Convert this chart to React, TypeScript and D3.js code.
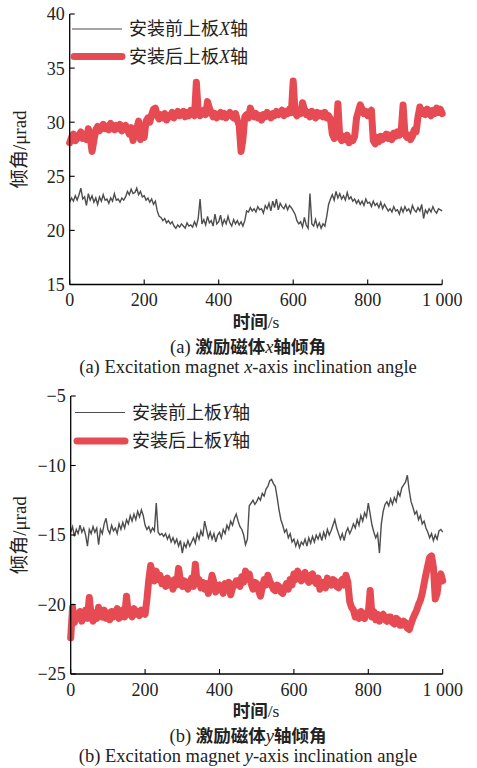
import React from 'react';
import * as d3 from 'd3';

// sampling interval (s) of every series
const STEP = 5;

// (a) x-axis, before installation
const beforeX = [
  22.6, 23.0, 22.7, 23.2, 22.8, 23.3, 23.9, 22.9, 23.1, 22.3,
  23.4, 22.8, 23.2, 22.6, 23.0, 22.4, 23.1, 22.7, 23.3, 22.8,
  22.9, 22.5, 23.0, 22.7, 23.4, 22.8, 22.9, 22.6, 23.0, 22.8,
  23.1, 23.6, 23.3, 23.8, 23.4, 23.5, 23.9, 23.3, 23.6, 23.1,
  23.2, 22.8, 23.0, 22.6, 22.9, 22.4, 22.7, 21.8, 21.3, 21.2,
  20.9, 21.1, 20.7, 20.9, 20.6, 20.8, 20.4, 20.2, 20.5, 20.3,
  20.6, 20.4, 20.2, 20.7, 20.4, 20.5, 20.3, 20.8, 20.4, 21.1,
  22.9, 20.6, 21.0, 20.5, 21.3, 20.7, 20.9, 20.4, 21.5, 20.6,
  20.8, 21.4, 20.5, 21.0, 20.6, 21.3, 20.7, 20.4, 21.0, 20.6,
  20.9, 20.5, 20.8, 20.4, 20.9, 21.8, 21.7, 22.1, 21.8, 22.0,
  21.7, 22.2, 21.9, 22.0, 21.6, 22.3, 22.0, 22.5, 21.8, 22.7,
  22.1, 22.9, 21.9, 22.5, 22.2, 22.0, 22.4, 21.9, 22.3, 22.1,
  21.8, 21.5, 20.9, 20.6, 20.8, 20.3, 21.2, 20.5, 20.2, 23.4,
  20.6, 20.4, 21.0, 20.3, 20.7, 20.2, 20.6, 20.4, 21.3, 22.4,
  22.9, 23.3, 22.8, 23.6, 23.0, 23.4, 22.9, 23.2, 22.8, 23.5,
  22.9, 23.1, 22.7, 22.9, 22.5, 22.8, 22.4, 22.7, 22.3, 22.9,
  22.5, 22.6, 22.2, 22.7, 22.3, 22.5, 22.1, 22.6, 22.0, 22.4,
  22.1, 21.8, 22.0, 21.7, 22.2, 21.8, 21.9, 21.5, 22.1, 21.7,
  22.2, 21.8, 22.0, 21.6, 22.3, 21.9, 21.7, 22.1, 21.8, 22.4,
  21.1, 21.9, 21.6, 22.0, 21.7, 22.2, 21.8, 21.6, 22.0, 21.9,
  21.8,
];

// (a) x-axis, after installation
const afterX = [
  28.1, 28.6, 28.9, 28.3, 28.5, 28.8, 29.1, 28.5, 28.7, 28.4,
  29.4, 28.6, 27.3, 28.3, 29.3, 29.6, 29.2, 29.5, 29.8, 29.4,
  29.6, 29.3, 29.9, 29.5, 29.3, 29.7, 29.4, 29.8, 29.2, 29.5,
  29.7, 29.3, 28.9, 29.5, 28.3, 28.9, 29.4, 30.1, 28.4, 28.9,
  28.6, 30.1, 30.4, 30.0, 30.7, 31.2, 31.3, 30.6, 30.3, 30.7,
  30.4, 30.8, 30.2, 30.6, 30.5, 30.9, 30.4, 30.7, 31.0, 30.6,
  30.7, 31.0, 30.5, 30.9, 30.6, 31.1, 30.8, 30.6, 33.7, 31.0,
  30.6, 30.9, 31.1, 30.7, 31.9, 31.3, 30.9, 30.5, 30.8, 30.4,
  30.7, 30.9, 30.5, 30.8, 30.4, 30.7, 30.9, 30.6, 30.4, 30.8,
  30.2, 29.7, 27.3, 28.4, 30.5, 30.7, 30.4, 31.3, 30.8, 30.5,
  30.8, 30.4, 30.6, 30.2, 30.7, 30.5, 30.9, 30.6, 30.4, 30.8,
  30.6, 31.0, 30.7, 30.9, 31.1, 30.6, 31.0, 30.8, 31.2, 30.9,
  33.8, 30.9, 30.6, 31.0, 30.8, 31.8, 31.2, 30.7, 30.9, 30.5,
  31.0, 30.7, 30.4, 30.9, 30.6, 30.8, 30.5, 30.9, 30.4, 30.6,
  30.3, 28.9, 28.5, 28.8, 31.7, 28.6, 28.3, 28.7, 28.4, 28.8,
  28.1, 28.5, 28.3, 28.7, 30.4, 31.0, 31.6, 31.2, 30.8, 31.0,
  30.6, 30.9, 31.1, 28.3, 28.0, 28.6, 28.2, 28.7, 28.4, 28.6,
  28.9, 28.5, 28.8, 28.4, 29.0, 28.7, 29.1, 28.8, 29.2, 31.6,
  28.9, 28.6, 28.8, 28.4, 28.7, 29.3, 29.1, 30.5, 31.4, 30.8,
  31.1, 30.7, 31.2, 30.9, 30.6, 31.1, 30.8, 31.3, 30.9, 31.2,
  30.8,
];

// (b) y-axis, before installation
const beforeY = [
  -14.8, -14.4, -15.1, -14.6, -14.9, -14.3, -14.8, -14.5, -15.0, -15.8,
  -14.6, -14.9, -14.4, -14.8, -14.5, -15.7, -14.6, -14.9, -14.2, -13.8,
  -14.6, -14.9, -14.3, -14.7, -14.5, -14.9, -14.2, -14.6, -14.1, -14.5,
  -13.9, -14.2, -13.6, -14.0, -13.5, -13.9, -13.3, -13.7, -13.2, -13.6,
  -14.3, -14.6, -14.4, -14.8, -14.5, -14.7, -12.7, -14.8, -15.0, -14.9,
  -15.1, -14.9, -15.3, -15.0, -15.5, -15.2, -15.6, -15.3, -15.8, -15.4,
  -16.3, -15.6, -15.9, -15.4, -15.8, -15.5, -15.2, -15.6, -14.9, -15.3,
  -14.7, -15.1, -14.0, -14.6, -15.2, -14.8, -15.3, -14.9, -15.5, -15.0,
  -14.8, -15.2, -14.6, -14.9, -14.3, -14.6, -14.0, -14.3, -13.8, -13.5,
  -14.0, -14.4, -14.6, -15.0, -15.7, -15.3, -12.9, -12.7, -12.5, -12.8,
  -12.6, -12.3, -12.5, -12.0, -12.2, -11.7, -11.5, -11.1, -11.0, -11.3,
  -11.5, -12.3, -13.2, -13.9, -14.3, -14.8, -14.6, -15.2, -14.9, -15.5,
  -15.3, -15.8, -15.4, -15.9, -15.5, -15.7, -15.3, -15.8, -15.2, -15.6,
  -15.1, -15.5, -15.0, -15.3, -14.9, -15.4, -14.8, -15.2, -14.6, -15.0,
  -14.7, -14.3, -13.9, -14.5, -14.9, -15.3, -14.9, -15.4, -14.8, -14.5,
  -14.9, -14.6, -14.2, -14.5, -13.9, -14.3, -13.6, -14.0, -13.4, -13.7,
  -12.7, -13.5, -14.3, -14.8, -15.2, -14.9, -16.3, -14.2, -13.3, -12.8,
  -12.6, -12.9, -12.4, -12.8, -12.3, -12.6, -11.9, -12.2, -11.6, -11.4,
  -11.2, -10.7, -11.8, -12.6, -13.0, -13.5, -13.3, -13.9, -13.6, -14.2,
  -14.0, -14.5, -14.8, -15.2, -14.9, -15.4, -15.0, -15.3, -14.7, -14.6,
  -14.8,
];

// (b) y-axis, after installation
const afterY = [
  -22.4, -20.2, -21.3, -20.7, -21.0, -20.5, -21.2, -20.8, -20.4, -21.0,
  -19.5, -20.8, -21.2, -20.6, -21.0, -20.2, -20.7, -20.9, -20.4, -21.0,
  -20.6, -21.1, -20.5, -20.9, -20.7, -20.3, -21.0, -20.6, -20.4, -20.9,
  -19.4, -20.7, -20.5, -20.9, -20.3, -20.7, -20.5, -20.8, -20.4, -20.6,
  -20.7, -19.6, -18.2, -17.2, -17.8, -18.3, -17.6, -18.2, -17.9, -18.5,
  -18.2, -18.7, -18.1, -18.6, -18.3, -18.9, -18.2, -18.6, -17.4, -18.3,
  -18.7, -18.3, -18.5, -18.9, -18.4, -18.1, -18.7, -17.1, -18.5, -18.2,
  -18.8, -18.4, -18.9, -18.5, -19.2, -18.6, -17.9, -18.4, -19.1, -18.7,
  -18.6, -18.9, -19.2, -18.5, -18.8, -18.4, -19.3, -18.8, -18.6, -18.3,
  -18.3, -18.7, -18.0, -18.4, -17.6, -18.1, -17.8, -18.5, -18.9, -18.4,
  -18.5, -19.0, -19.4, -18.8, -18.2, -18.6, -17.9, -18.3, -18.6, -18.9,
  -19.0, -18.6, -18.7, -19.1, -19.2, -18.8, -18.5, -18.9, -18.2, -18.6,
  -17.8, -18.2, -17.6, -18.0, -18.3, -17.9, -17.7, -18.2, -18.4, -17.9,
  -17.8, -18.3, -18.5, -18.1, -18.9, -18.5, -18.4, -18.8, -18.1, -18.5,
  -18.6, -18.2, -18.3, -18.7, -18.8, -18.4, -18.2, -18.6, -17.9, -18.4,
  -19.8, -20.2, -20.4, -20.9, -20.6, -21.0, -20.5, -20.9, -21.0, -20.6,
  -20.6, -19.0, -20.9, -20.5, -21.1, -20.7, -21.2, -20.8, -20.7, -21.1,
  -21.2, -20.9, -20.9, -21.3, -21.4, -21.0, -21.1, -21.5, -21.5, -21.2,
  -21.3, -21.7, -21.8, -21.4, -21.0, -20.7, -20.4, -20.0, -19.7, -19.2,
  -18.5, -17.8, -17.2, -16.6, -16.5, -17.3, -19.6, -19.2, -18.1, -17.8,
  -18.3,
];

const xTicks = [0, 200, 400, 600, 800, 1000];
const yTicksA = [15, 20, 25, 30, 35, 40];
const yTicksB = [-25, -20, -15, -10, -5];

const SERIF = '"Liberation Serif", "Times New Roman", serif';
const CJK = '"Noto Sans CJK SC", "Liberation Serif", serif';
const GREY = '#4d4d4d';
const RED = '#e64a52';
const INK = '#222';

const fmtX = (v: number) => (v >= 1000 ? `${Math.floor(v / 1000)} ${String(v % 1000).padStart(3, '0')}` : String(v));
const fmtY = (v: number) => (v < 0 ? `\u2212${Math.abs(v)}` : String(v));

type PanelProps = {
  left: number; right: number; top: number; bottom: number;
  yDomain: [number, number]; yTicks: number[];
  before: number[]; after: number[];
  axisLetter: string; capLetter: string; capAxis: string;
  legendX: number; legendY1: number; legendY2: number;
  titleY: number;
};

function Panel(p: PanelProps) {
  const x = d3.scaleLinear().domain([0, 1000]).range([p.left, p.right]);
  const y = d3.scaleLinear().domain(p.yDomain).range([p.bottom, p.top]);
  const line = d3.line<number>().x((_, i) => x(i * STEP)).y((d) => y(d));
  const midY = (p.top + p.bottom) / 2;
  const midX = 256;
  return (
    <g>
      <path d={line(p.after) || ''} fill="none" stroke={RED} strokeWidth={7} strokeLinejoin="round" strokeLinecap="round" />
      <path d={line(p.before) || ''} fill="none" stroke={GREY} strokeWidth={1.4} strokeLinejoin="miter" />
      {/* axes */}
      <line x1={p.left} x2={p.left} y1={p.top} y2={p.bottom} stroke="#000" strokeWidth={1.3} />
      <line x1={p.left} x2={p.right} y1={p.bottom} y2={p.bottom} stroke="#000" strokeWidth={1.3} />
      {xTicks.map((t) => (
        <g key={t}>
          <line x1={x(t)} x2={x(t)} y1={p.bottom} y2={p.bottom - 5} stroke="#000" strokeWidth={1.1} />
          <text x={x(t)} y={p.bottom + 21.5} textAnchor="middle" fontFamily={SERIF} fontSize={18} fill={INK}>{fmtX(t)}</text>
        </g>
      ))}
      {p.yTicks.map((t) => (
        <g key={t}>
          <line x1={p.left} x2={p.left + 5} y1={y(t)} y2={y(t)} stroke="#000" strokeWidth={1.1} />
          <text x={p.left - 5} y={y(t)} dy="0.36em" textAnchor="end" fontFamily={SERIF} fontSize={18} fill={INK}>{fmtY(t)}</text>
        </g>
      ))}
      {/* y title */}
      <text transform={`translate(26,${midY}) rotate(-90)`} textAnchor="middle" fontSize={19} fill={INK}>
        <tspan fontFamily={CJK}>倾角</tspan>
        <tspan fontFamily={SERIF}>/μrad</tspan>
      </text>
      {/* x title */}
      <text x={midX} y={p.bottom + 43} textAnchor="middle" fontSize={17.5} fill={INK}>
        <tspan fontFamily={CJK} fontWeight={700}>时间</tspan>
        <tspan fontFamily={SERIF}>/s</tspan>
      </text>
      {/* captions */}
      <text x={248} y={p.titleY} textAnchor="middle" fontSize={17.5} fill={INK}>
        <tspan fontFamily={SERIF} fontSize={18.5}>({p.capLetter}) </tspan>
        <tspan fontFamily={CJK} fontWeight={700}>激励磁体</tspan>
        <tspan fontFamily={SERIF} fontStyle="italic" fontSize={18.5}>{p.capAxis}</tspan>
        <tspan fontFamily={CJK} fontWeight={700}>轴倾角</tspan>
      </text>
      <text x={248} y={p.titleY + 19.5} textAnchor="middle" fontFamily={SERIF} fontSize={18.5} fill={INK}>
        ({p.capLetter}) Excitation magnet <tspan fontStyle="italic">{p.capAxis}</tspan>-axis inclination angle
      </text>
      {/* legend */}
      <line x1={p.legendX} x2={p.legendX + 50} y1={p.legendY1} y2={p.legendY1} stroke={GREY} strokeWidth={1.2} />
      <text x={p.legendX + 57} y={p.legendY1} dy="0.36em" fontSize={18} fill={INK}>
        <tspan fontFamily={CJK}>安装前上板</tspan>
        <tspan fontFamily={SERIF} fontStyle="italic">{p.axisLetter}</tspan>
        <tspan fontFamily={CJK}>轴</tspan>
      </text>
      <line x1={p.legendX + 2} x2={p.legendX + 50} y1={p.legendY2} y2={p.legendY2} stroke={RED} strokeWidth={7} strokeLinecap="round" />
      <text x={p.legendX + 57} y={p.legendY2} dy="0.36em" fontSize={18} fill={INK}>
        <tspan fontFamily={CJK}>安装后上板</tspan>
        <tspan fontFamily={SERIF} fontStyle="italic">{p.axisLetter}</tspan>
        <tspan fontFamily={CJK}>轴</tspan>
      </text>
    </g>
  );
}

export default function App() {
  return (
    <svg width={477} height={768} style={{ position: 'absolute', left: 0, top: 0, background: '#fff' }}>
      <rect width={477} height={768} fill="#fff" />
      <Panel left={69.7} right={442.2} top={14} bottom={284.5} yDomain={[15, 40]} yTicks={yTicksA}
        before={beforeX} after={afterX} axisLetter="X" capLetter="a" capAxis="x"
        legendX={72} legendY1={29} legendY2={56.5} titleY={353} />
      <Panel left={70.7} right={442.7} top={396} bottom={674} yDomain={[-25, -5]} yTicks={yTicksB}
        before={beforeY} after={afterY} axisLetter="Y" capLetter="b" capAxis="y"
        legendX={75} legendY1={412.5} legendY2={441} titleY={742} />
    </svg>
  );
}
